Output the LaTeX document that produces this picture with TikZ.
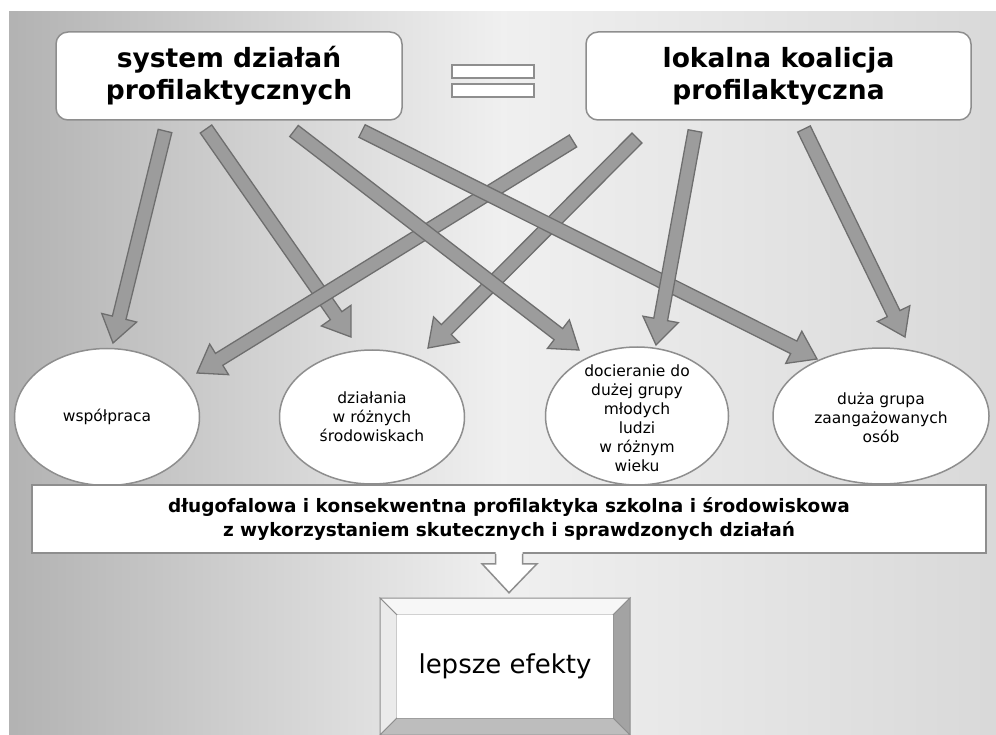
\documentclass[tikz,border=0pt]{standalone}
\usepackage{fontspec}
\setmainfont{DejaVu Sans}
\usetikzlibrary{calc,shapes.geometric}

\definecolor{arrowfill}{HTML}{9C9C9C}
\definecolor{arrowedge}{HTML}{6E6E6E}
\definecolor{boxedge}{HTML}{8E8E8E}

\tikzset{
  topbox/.style={draw=boxedge, line width=1.5pt, fill=white, rounded corners=12pt,
    minimum height=88pt, align=center, font=\fontsize{26.5}{32}\selectfont\bfseries},
  eqbar/.style={draw=boxedge, line width=1.5pt, fill=white, minimum width=82pt,
    minimum height=13pt, inner sep=0pt},
  oval/.style={ellipse, draw=boxedge, line width=1.5pt, fill=white, inner sep=0pt},
  ovaltext/.style={align=center, inner sep=0pt, font=\fontsize{15.5}{19}\selectfont},
  longbox/.style={draw=boxedge, line width=1.5pt, fill=white, minimum width=954pt,
    minimum height=68pt, align=center, font=\fontsize{18.5}{23.5}\selectfont\bfseries},
  blockarr/.style={draw=arrowedge, fill=arrowfill, line width=1.3pt, line join=miter},
  hollow/.style={draw=boxedge, line width=1.5pt, line join=miter}
}

% thick arrow with a flat tail, from #1 to the tip #2
\newcommand{\blockarrow}[2]{%
  \coordinate (hb) at ($(#2)!26pt!(#1)$);
  \draw[blockarr] ($(#1)!7pt!90:(#2)$) -- ($(hb)!7pt!90:(#2)$) -- ($(hb)!18pt!90:(#2)$)
    -- (#2) -- ($(hb)!18pt!-90:(#2)$) -- ($(hb)!7pt!-90:(#2)$) -- ($(#1)!7pt!-90:(#2)$) -- cycle;
}

\begin{document}
\begin{tikzpicture}[x=1pt, y=-1pt]
  \useasboundingbox (0,0) rectangle (996,735);
  \fill[white] (0,0) rectangle (996,735);
  \shade[left color=black!30, right color=black!15, middle color=black!6] (9,12) rectangle (996,735);

  % top boxes
  \node[topbox, minimum width=346pt] (sys) at (229,76) {system działań\\profilaktycznych};
  \node[topbox, minimum width=385pt] (koal) at (778.5,76) {lokalna koalicja\\profilaktyczna};
  \node[eqbar] (eqtop) at (493,71.5) {};
  \node[eqbar] (eqbot) at (493,90.5) {};

  % ovals
  \node[oval, minimum width=185pt, minimum height=137pt] (wsp) at (107,417) {};
  \node[ovaltext] (wsp-t) at (wsp) {współpraca};
  \node[oval, minimum width=185pt, minimum height=134pt] (dzial) at (372,417) {};
  \node[ovaltext] (dzial-t) at (dzial) {działania\\w różnych\\środowiskach};
  \node[oval, minimum width=183pt, minimum height=138pt] (doc) at (637,416) {};
  \node[ovaltext] (doc-t) at ($(doc)+(0,2)$) {docieranie do\\dużej grupy\\młodych\\ludzi\\w różnym\\wieku};
  \node[oval, minimum width=216pt, minimum height=136pt] (duza) at (881,416) {};
  \node[ovaltext] (duza-t) at ($(duza)+(0,2)$) {duża grupa\\zaangażowanych\\osób};

  % arrow ends
  \coordinate (s1) at (165,131);  \coordinate (t1) at (113,343);
  \coordinate (s2) at (206,129);  \coordinate (t2) at (351,337);
  \coordinate (s3) at (294,131);  \coordinate (t3) at (579,350);
  \coordinate (s4) at (362,131);  \coordinate (t4) at (817,359);
  \coordinate (s5) at (573,141);  \coordinate (t5) at (197,373);
  \coordinate (s6) at (637,138);  \coordinate (t6) at (428,348);
  \coordinate (s7) at (695,131);  \coordinate (t7) at (656,345);
  \coordinate (s8) at (804,129);  \coordinate (t8) at (905,337);

  \blockarrow{s1}{t1}
  \blockarrow{s2}{t2}
  \blockarrow{s5}{t5}
  \blockarrow{s6}{t6}
  \blockarrow{s3}{t3}
  \blockarrow{s4}{t4}
  \blockarrow{s7}{t7}
  \blockarrow{s8}{t8}

  % bottom strategy box
  \node[longbox] (strat) at (509,519) {długofalowa i konsekwentna profilaktyka szkolna i środowiskowa\\z wykorzystaniem skutecznych i sprawdzonych działań};

  % hollow arrow down
  \fill[white] ($(strat.south)+(-13.5,-2)$) -- ($(strat.south)+(-13.5,10)$) -- ($(strat.south)+(-27,10)$)
    -- ($(strat.south)+(0,39)$) -- ($(strat.south)+(28,10)$) -- ($(strat.south)+(13.5,10)$)
    -- ($(strat.south)+(13.5,-2)$) -- cycle;
  \draw[hollow] ($(strat.south)+(-13.5,0)$) -- ($(strat.south)+(-13.5,10)$) -- ($(strat.south)+(-27,10)$)
    -- ($(strat.south)+(0,39)$) -- ($(strat.south)+(28,10)$) -- ($(strat.south)+(13.5,10)$)
    -- ($(strat.south)+(13.5,0)$);

  % bevelled result box
  \draw[boxedge, line width=1pt, fill=black!3] (380,598) -- (630,598) -- (613,615) -- (397,615) -- cycle;
  \draw[boxedge, line width=1pt, fill=black!8] (380,598) -- (397,615) -- (397,718) -- (380,735) -- cycle;
  \draw[boxedge, line width=1pt, fill=black!36] (630,598) -- (630,735) -- (613,718) -- (613,615) -- cycle;
  \draw[boxedge, line width=1pt, fill=black!26] (380,735) -- (630,735) -- (613,718) -- (397,718) -- cycle;
  \fill[white] (397,615) rectangle (613,718);
  \node[font=\fontsize{26}{30}\selectfont] (lepsze) at (505,666) {lepsze efekty};
\end{tikzpicture}
\end{document}
